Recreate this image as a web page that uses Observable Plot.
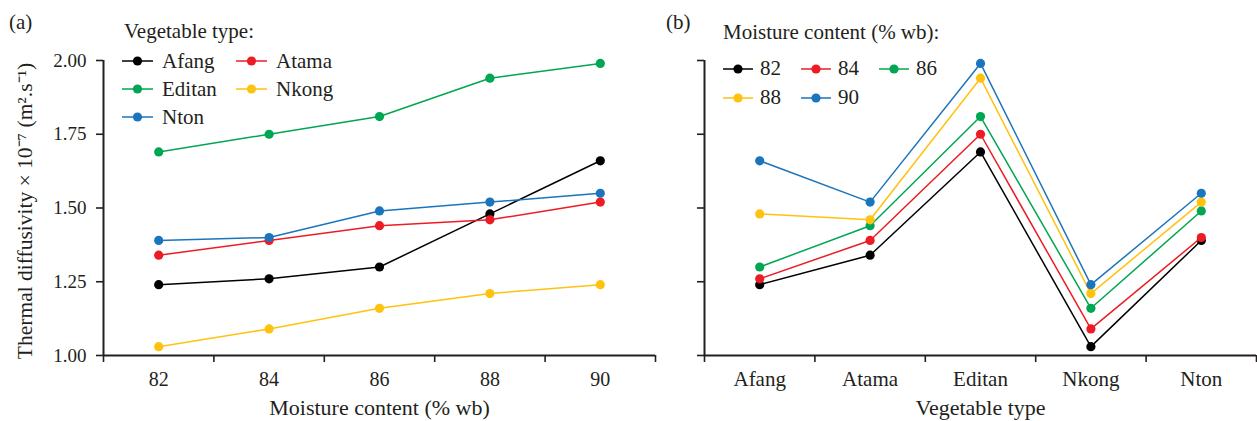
<!DOCTYPE html>
<html><head><meta charset="utf-8">
<script src="https://cdn.jsdelivr.net/npm/d3@7"></script>
<script src="https://cdn.jsdelivr.net/npm/@observablehq/plot@0.6"></script>
<style>
body{margin:0;background:#fff;font-family:"Liberation Serif",serif;color:#231f20}
#wrap{position:relative;width:1257px;height:421px;display:flex;overflow:hidden}
.lbl{position:absolute;font-size:21px;line-height:1}
.lg{position:absolute;font-size:21px;line-height:1}
.lg .t{white-space:nowrap;height:21px}
.lg .grid{display:grid}
.lg .it{display:flex;align-items:center;white-space:nowrap}
.lg svg{display:block}
</style></head><body><div id="wrap"></div>
<script>
// ---- data ----
const moisture = [82, 84, 86, 88, 90];
const vegetables = ["Afang", "Atama", "Editan", "Nkong", "Nton"];
const afang  = [1.24, 1.26, 1.30, 1.48, 1.66];
const atama  = [1.34, 1.39, 1.44, 1.46, 1.52];
const editan = [1.69, 1.75, 1.81, 1.94, 1.99];
const nkong  = [1.03, 1.09, 1.16, 1.21, 1.24];
const nton   = [1.39, 1.40, 1.49, 1.52, 1.55];
const yTicks = [1.00, 1.25, 1.50, 1.75, 2.00];
const palette = ["#000000", "#ed1c24", "#00a651", "#ffc20e", "#1b75bc"];
const yTitle = "Thermal diffusivity × 10\u207B\u2077 (m\u00B2.s\u207B\u00B9)";
const xTitleA = "Moisture content (% wb)";
const xTitleB = "Vegetable type";

const series = [afang, atama, editan, nkong, nton];
const rows = [];
vegetables.forEach((v, i) => moisture.forEach((m, j) =>
  rows.push({veg: v, vi: i, moisture: m, mi: j, value: series[i][j]})));

const wrap = document.getElementById("wrap");
const FF = "Liberation Serif";
const style = {fontFamily: FF, fontSize: "20px", color: "#231f20", background: "white", overflow: "visible"};

// ---- panel (a) ----
const aEdges = d3.range(d3.min(moisture) - 1, d3.max(moisture) + 2, 2);
const left = Plot.plot({
  width: 660, height: 421, marginLeft: 103, marginRight: 5, marginTop: 60, marginBottom: 66,
  style,
  x: {domain: [aEdges[0], aEdges[aEdges.length - 1]]},
  y: {domain: [1, 2]},
  color: {domain: vegetables, range: palette},
  marks: [
    Plot.axisY({ticks: yTicks, tickFormat: d3.format(".2f"), tickSize: 7, tickPadding: 10, strokeWidth: 1.6, label: null, fontFamily: FF, fontSize: 19, fill: "#231f20"}),
    Plot.axisX({ticks: moisture, tickSize: 0, tickPadding: 16, label: null, fontFamily: FF, fontSize: 20, fill: "#231f20"}),
    Plot.axisX({ticks: aEdges, tickSize: 7, tickFormat: () => "", strokeWidth: 1.6, label: null}),
    Plot.ruleY([1], {strokeWidth: 2}),
    Plot.ruleX([aEdges[0]], {strokeWidth: 2}),
    ...vegetables.flatMap(v => [
      Plot.line(rows.filter(d => d.veg === v), {x: "moisture", y: "value", stroke: "veg", strokeWidth: 1.5}),
      Plot.dot(rows.filter(d => d.veg === v), {x: "moisture", y: "value", fill: "veg", r: 4.6})
    ]),
    Plot.text([yTitle], {text: d => d, frameAnchor: "left", textAnchor: "middle", lineAnchor: "middle", dx: -78, dy: 3, rotate: -90, fontSize: 21.5, fontFamily: FF, fill: "#231f20"}),
    Plot.text([xTitleA], {text: d => d, frameAnchor: "bottom", lineAnchor: "middle", dy: 52, fontSize: 22, fontFamily: FF, fill: "#231f20"})
  ]
});

// ---- panel (b) ----
const bIdx = vegetables.map((v, i) => i);
const bEdges = d3.range(-0.5, vegetables.length, 1);
const right = Plot.plot({
  width: 597, height: 421, marginLeft: 44, marginRight: 1, marginTop: 60, marginBottom: 66,
  style,
  x: {domain: [bEdges[0], bEdges[bEdges.length - 1]]},
  y: {domain: [1, 2]},
  color: {type: "ordinal", domain: moisture, range: palette},
  marks: [
    Plot.axisY({ticks: yTicks, tickFormat: () => "", tickSize: 7, strokeWidth: 1.6, label: null}),
    Plot.axisX({ticks: bIdx, tickFormat: i => vegetables[i], tickSize: 0, tickPadding: 16, label: null, fontFamily: FF, fontSize: 21, fill: "#231f20"}),
    Plot.axisX({ticks: bEdges, tickSize: 7, tickFormat: () => "", strokeWidth: 1.6, label: null}),
    Plot.ruleY([1], {strokeWidth: 2}),
    Plot.ruleX([bEdges[0]], {strokeWidth: 2}),
    ...moisture.flatMap(m => [
      Plot.line(rows.filter(d => d.moisture === m), {x: "vi", y: "value", stroke: "moisture", strokeWidth: 1.5}),
      Plot.dot(rows.filter(d => d.moisture === m), {x: "vi", y: "value", fill: "moisture", r: 4.6})
    ]),
    Plot.text([xTitleB], {text: d => d, frameAnchor: "bottom", lineAnchor: "middle", dy: 52, fontSize: 22, fontFamily: FF, fill: "#231f20"})
  ]
});

wrap.append(left, right);

// ---- labels & legends (HTML) ----
function addLabel(txt, x, y) {
  const d = document.createElement("div");
  d.className = "lbl"; d.textContent = txt;
  d.style.left = x + "px"; d.style.top = y + "px";
  wrap.appendChild(d);
}
addLabel("(a)", 9, 12);
addLabel("(b)", 666, 12);

function swatch(color, w, gap) {
  const ns = "http://www.w3.org/2000/svg";
  const s = document.createElementNS(ns, "svg");
  s.setAttribute("width", w); s.setAttribute("height", 12);
  s.style.marginRight = gap + "px";
  const l = document.createElementNS(ns, "line");
  l.setAttribute("x1", 0); l.setAttribute("x2", w); l.setAttribute("y1", 6); l.setAttribute("y2", 6);
  l.setAttribute("stroke", color); l.setAttribute("stroke-width", 1.5);
  const c = document.createElementNS(ns, "circle");
  c.setAttribute("cx", w / 2); c.setAttribute("cy", 6); c.setAttribute("r", 4.6); c.setAttribute("fill", color);
  s.append(l, c);
  return s;
}
function legend(title, items, colors, o) {
  const d = document.createElement("div");
  d.className = "lg"; d.style.left = o.x + "px"; d.style.top = o.y + "px";
  const t = document.createElement("div"); t.className = "t"; t.textContent = title;
  t.style.paddingLeft = o.titlePad + "px";
  const g = document.createElement("div"); g.className = "grid";
  g.style.gridTemplateColumns = `repeat(${o.cols}, ${o.colW}px)`;
  g.style.gridAutoRows = o.rowH + "px";
  g.style.marginTop = o.gapTop + "px";
  items.forEach((it, i) => {
    const e = document.createElement("div"); e.className = "it";
    e.append(swatch(colors[i], o.sw, o.swGap), document.createTextNode(String(it)));
    g.appendChild(e);
  });
  d.append(t, g);
  wrap.appendChild(d);
}
legend("Vegetable type:", vegetables, palette, {x: 122, y: 21, titlePad: 2, cols: 2, colW: 114, rowH: 28, gapTop: 5, sw: 31, swGap: 9});
legend("Moisture content (% wb):", moisture, palette, {x: 723, y: 22, titlePad: 0, cols: 3, colW: 78, rowH: 29, gapTop: 11, sw: 30, swGap: 7});
</script></body></html>
